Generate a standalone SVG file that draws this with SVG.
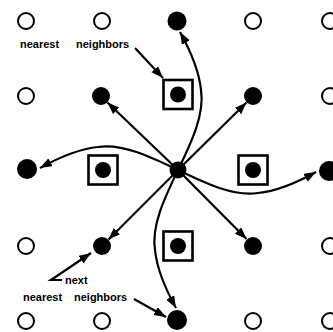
<svg xmlns="http://www.w3.org/2000/svg" width="333" height="332" viewBox="0 0 333 332">
<style>
.open{fill:#fff;stroke:#000;stroke-width:2}
.fill{fill:#000}
.box{fill:none;stroke:#000;stroke-width:2.6}
.con{fill:none;stroke:#000;stroke-width:2.2;marker-end:url(#ah)}
.lbl{font-family:"Liberation Sans",Arial,sans-serif;font-size:11px;font-weight:bold;fill:#000}
</style>
<defs>
<marker id="ah" markerUnits="userSpaceOnUse" markerWidth="13" markerHeight="10" refX="12" refY="4.5" orient="auto">
<path d="M0,0 L12,4.5 L0,9 z" fill="#000"/>
</marker>
</defs>
<rect width="333" height="332" fill="#fff"/>
<g id="sites-open">
<circle class="open" cx="26" cy="21" r="8"/>
<circle class="open" cx="102" cy="21" r="8"/>
<circle class="open" cx="253" cy="21" r="8"/>
<circle class="open" cx="330" cy="21" r="8"/>
<circle class="open" cx="26" cy="96" r="8"/>
<circle class="open" cx="330" cy="96" r="8"/>
<circle class="open" cx="26" cy="246" r="8"/>
<circle class="open" cx="330" cy="246" r="8"/>
<circle class="open" cx="26" cy="321" r="8"/>
<circle class="open" cx="102" cy="321" r="8"/>
<circle class="open" cx="253" cy="321" r="8"/>
<circle class="open" cx="330" cy="321" r="8"/>
</g>
<g id="center"><circle class="fill" cx="178" cy="170" r="8.5"/></g>
<g id="nn-n"><rect class="box" x="163.5" y="80" width="29" height="29"/><circle class="fill" cx="178" cy="94.5" r="8"/></g>
<g id="nn-w"><rect class="box" x="88.5" y="155.5" width="29" height="29"/><circle class="fill" cx="103" cy="170" r="8"/></g>
<g id="nn-e"><rect class="box" x="238.5" y="155.5" width="29" height="29"/><circle class="fill" cx="253" cy="170" r="8"/></g>
<g id="nn-s"><rect class="box" x="163.5" y="231.5" width="29" height="29"/><circle class="fill" cx="178" cy="246" r="8"/></g>
<g id="nnn-nw"><circle class="fill" cx="101" cy="96" r="9"/></g>
<g id="nnn-ne"><circle class="fill" cx="253" cy="96" r="9"/></g>
<g id="nnn-sw"><circle class="fill" cx="102" cy="246" r="9"/></g>
<g id="nnn-se"><circle class="fill" cx="253" cy="246" r="9"/></g>
<g id="far-n"><circle class="fill" cx="177" cy="21" r="9.5"/></g>
<g id="far-w"><circle class="fill" cx="27" cy="169" r="10"/></g>
<g id="far-e"><circle class="fill" cx="329" cy="171" r="10"/></g>
<g id="far-s"><circle class="fill" cx="177" cy="320" r="10"/></g>
<g id="connectors">
<path class="con" d="M178,170 L107.5,102.5"/>
<path class="con" d="M178,170 L246.5,102.5"/>
<path class="con" d="M178,170 L108.5,239.5"/>
<path class="con" d="M178,170 L246.5,239"/>
<path class="con" d="M178,170 C190,145 205,115 201,90 C199,70 190,50 180,32"/>
<path class="con" d="M178,170 C190,145 205,115 201,90 C199,70 190,50 180,32" transform="rotate(90 178 170)"/>
<path class="con" d="M178,170 C190,145 205,115 201,90 C199,70 190,50 180,32" transform="rotate(180 178 170)"/>
<path class="con" d="M178,170 C190,145 205,115 201,90 C199,70 190,50 180,32" transform="rotate(270 178 170)"/>
<path class="con" d="M135,48 L163,78"/>
<path class="con" d="M62,280 L51,280 L91,253"/>
<path class="con" d="M134,299 L166,317"/>
</g>
<g id="labels">
<text class="lbl" x="20" y="48">nearest</text>
<text class="lbl" x="76" y="48">neighbors</text>
<text class="lbl" x="65" y="284">next</text>
<text class="lbl" x="23" y="301">nearest</text>
<text class="lbl" x="74" y="301">neighbors</text>
</g>
</svg>
